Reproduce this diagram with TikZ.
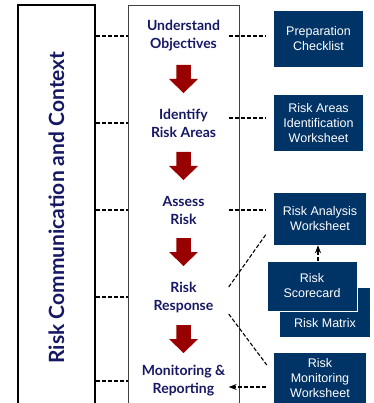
\documentclass[tikz,border=0pt]{standalone}
\usepackage{fontspec}
\setmainfont{Liberation Sans}
\newfontfamily\stepfont{Lato}
\usetikzlibrary{arrows.meta}

\definecolor{boxnavy}{RGB}{0,51,102}
\definecolor{labelnavy}{RGB}{22,24,100}
\definecolor{riskred}{RGB}{153,0,0}

\begin{document}
\begin{tikzpicture}[x=1pt,y=-1pt,
    frame/.style={draw,inner sep=0pt},
    stage/.style={text=labelnavy,font=\stepfont\bfseries\fontsize{14}{18}\selectfont,align=center,inner sep=0pt,minimum width=90pt},
    sheet/.style={fill=boxnavy,text=white,font=\fontsize{12.5}{15}\selectfont,align=center,inner sep=0pt}]
\useasboundingbox (0,0) rectangle (373,403);

\begin{scope}
    \node[frame,line width=2pt,rotate=90,minimum width=405pt,minimum height=77pt,
          text=labelnavy,font=\stepfont\bfseries\fontsize{21}{24}\selectfont] (comm) at (56.5,207.5) {Risk Communication and Context};
    \node[frame,draw=black!75,line width=0.8pt,minimum width=111pt,minimum height=405pt] (proc) at (183.5,207.5) {};

    \node[stage] (obj) at (183.5,36) {Understand\\Objectives};
    \node[stage] (ide) at (183.5,123) {Identify\\Risk Areas};
    \node[stage] (ass) at (183.5,210) {Assess\\Risk};
    \node[stage] (rsp) at (183.5,297) {Risk\\Response};
    \node[stage] (rep) at (183.5,381) {Monitoring \&\\Reporting};

    \node[sheet,minimum width=89pt,minimum height=56pt] (prep) at (318.5,39) {Preparation\\Checklist};
    \node[sheet,minimum width=89pt,minimum height=56pt] (area) at (318.5,123) {Risk Areas\\Identification\\Worksheet};
    \node[sheet,minimum width=92pt,minimum height=52pt] (ana) at (320,219) {Risk Analysis\\Worksheet};
    \node[sheet,minimum width=90pt,text height=39pt,text depth=10pt,anchor=base] (mtx) at (325,327) {Risk Matrix};
    \node[sheet,draw=white,line width=0.6pt,minimum width=90pt,minimum height=50pt] (sco) at (312,286) {Risk\\Scorecard};
    \node[sheet,minimum width=92pt,minimum height=50pt] (mon) at (320,378) {Risk\\Monitoring\\Worksheet};
\end{scope}

% block arrows between the stages
\foreach \y in {65,152,238,325}
    \fill[riskred] (176.25,\y) -- ++(14.5,0) -- ++(0,14) -- ++(7.25,0) -- ++(-14.5,14) -- ++(-14.5,-14) -- ++(7.25,0) -- cycle;

\begin{scope}[>={Stealth[black]},every edge/.style={draw=black,line width=1.1pt,dash pattern=on 4pt off 2pt}]
    \foreach \s in {obj,ide,ass,rsp,rep}
        \path [-] (comm.south |- \s) edge (proc.west |- \s);

    \path [-] (obj.east) edge[shorten >=8pt] (obj.east -| prep.west);
    \path [-] ([yshift=5pt]ide.east) edge[shorten >=8pt] ([yshift=5pt]ide.east -| area.west);
    \path [-] (ass.east) edge[shorten >=8pt] (ass.east -| ana.west);
    \path [-] ([yshift=10pt]rsp.east) edge ([shift={(-7pt,12pt)}]ana.south west);
    \path [-] ([yshift=-17pt]rsp.east) edge ([shift={(-7pt,13pt)}]mon.west);
    \path [-] ([shift={(-8pt,-9pt)}]mon.west) edge[->] ([yshift=-6pt]rep.east);
    \path [-] ([xshift=6pt]sco.north) edge[->] ([xshift=6pt]sco.north |- ana.south);
\end{scope}
\end{tikzpicture}
\end{document}
